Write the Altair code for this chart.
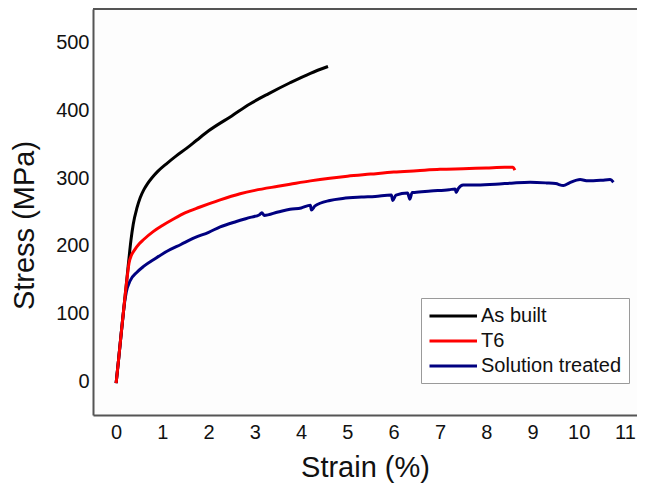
import altair as alt
import pandas as pd

series_names = ["As built", "T6", "Solution treated"]
series_colors = ["#000000", "#ff0000", "#000080"]

built_strain = [0, 0.05, 0.1, 0.15, 0.2, 0.25, 0.28, 0.32, 0.37, 0.45, 0.52, 0.6, 0.68, 0.78,
                0.9, 1.1, 1.3, 1.52, 1.74, 2.0, 2.5, 2.9, 3.3, 3.76, 4.2, 4.58]
built_stress = [-3, 30, 64, 97, 130, 163, 183, 208, 232, 256, 271, 283, 292, 301,
                310, 322, 333, 344, 356, 370, 392, 410, 425, 441, 455, 465]

t6_strain = [0, 0.05, 0.1, 0.15, 0.2, 0.25, 0.28, 0.33, 0.4, 0.5, 0.59, 0.8, 1.0, 1.25, 1.5,
             1.8, 2.0, 2.25, 2.68, 3.0, 3.5, 3.76, 4.2, 4.62, 5.0, 5.5, 6.0, 6.5, 7.0, 7.5,
             8.0, 8.4, 8.58, 8.62]
t6_stress = [-3, 30, 64, 97, 130, 160, 175, 186, 194, 203, 209, 221, 230, 240, 249,
             257, 262, 268, 277, 282, 288, 291, 296, 300, 303, 306, 309, 311, 313, 314,
             315, 316, 316, 312]

st_strain = [0, 0.05, 0.1, 0.15, 0.18, 0.22, 0.3, 0.45, 0.6, 0.84, 1.1, 1.4, 1.7, 2.0, 2.25,
             2.6, 2.9, 3.1, 3.15, 3.2, 3.5, 3.76, 4.0, 4.2, 4.22, 4.3, 4.62, 4.9, 5.3, 5.6,
             5.95, 5.98, 6.05, 6.3, 6.35, 6.4, 6.45, 6.8, 7.2, 7.33, 7.35, 7.4, 7.5, 7.8, 8.2,
             8.6, 8.95, 9.3, 9.5, 9.67, 9.8, 10.03, 10.2, 10.5, 10.68, 10.75]
st_stress = [-3, 30, 64, 97, 115, 132, 148, 161, 170, 181, 192, 202, 212, 220, 228,
             236, 242, 246, 249, 245, 250, 254, 256, 260, 253, 259, 267, 270, 272, 273,
             275, 267, 275, 278, 269, 279, 279, 281, 283, 284, 279, 285, 290, 290, 291,
             293, 294, 293, 292, 289, 293, 298, 296, 297, 298, 294]

x_ticks = list(range(0, 12))
y_ticks = [0, 100, 200, 300, 400, 500]

rows = []
for name, xs, ys in [("Solution treated", st_strain, st_stress),
                     ("As built", built_strain, built_stress),
                     ("T6", t6_strain, t6_stress)]:
    for i, (x, y) in enumerate(zip(xs, ys)):
        rows.append({"series": name, "strain": x, "stress": y, "order": i})
df = pd.DataFrame(rows)

W, H = 544, 406
FONT = "Liberation Sans"

lines = alt.Chart(df).mark_line(strokeWidth=3, clip=True, interpolate="monotone").encode(
    x=alt.X("strain:Q",
            scale=alt.Scale(domain=[-0.5, 11.26], nice=False, zero=False),
            axis=alt.Axis(values=x_ticks, title="Strain (%)", ticks=False, grid=False,
                          domainColor="#555555", domainWidth=2, labelFontSize=20,
                          labelPadding=7, labelColor="#111111", labelFont=FONT,
                          labelFlush=False, titleFontSize=29, titleFontWeight="normal",
                          titleFont=FONT, titleColor="#111111",
                          titleBaseline="alphabetic", titleY=61)),
    y=alt.Y("stress:Q",
            scale=alt.Scale(domain=[-50, 550], nice=False, zero=False),
            axis=alt.Axis(values=y_ticks, title="Stress (MPa)", ticks=False, grid=False,
                          domainColor="#555555", domainWidth=2, labelFontSize=20,
                          labelPadding=4, labelColor="#111111", labelFont=FONT,
                          labelFlush=False, titleFontSize=29, titleFontWeight="normal",
                          titleFont=FONT, titleColor="#111111",
                          titleBaseline="middle", titleX=-69, titleY=216)),
    color=alt.Color("series:N",
                    scale=alt.Scale(domain=series_names, range=series_colors),
                    legend=alt.Legend(title=None, orient="none", legendX=328, legendY=289,
                                      symbolType="M-1,0H4", symbolSize=361,
                                      symbolStrokeWidth=3, labelFontSize=20,
                                      labelFont=FONT, labelColor="#111111",
                                      labelOffset=31, rowPadding=4, padding=7,
                                      strokeColor="#9a9a9a", fillColor="#ffffff")),
    order="order:Q",
)

frame_top = alt.Chart(pd.DataFrame({"a": [0]})).mark_rule(
    color="#555555", strokeWidth=2).encode(
    x=alt.value(0), x2=alt.value(W), y=alt.value(0))

chart = alt.layer(lines, frame_top).properties(
    width=W, height=H,
    autosize=alt.AutoSizeParams(type="none"),
    padding={"left": 85, "top": 1, "right": 0, "bottom": 68},
    background="#ffffff",
).configure_view(stroke=None, fill="#fdfdfd")

chart.save("out.html", embed_options={"renderer": "svg", "actions": False})
